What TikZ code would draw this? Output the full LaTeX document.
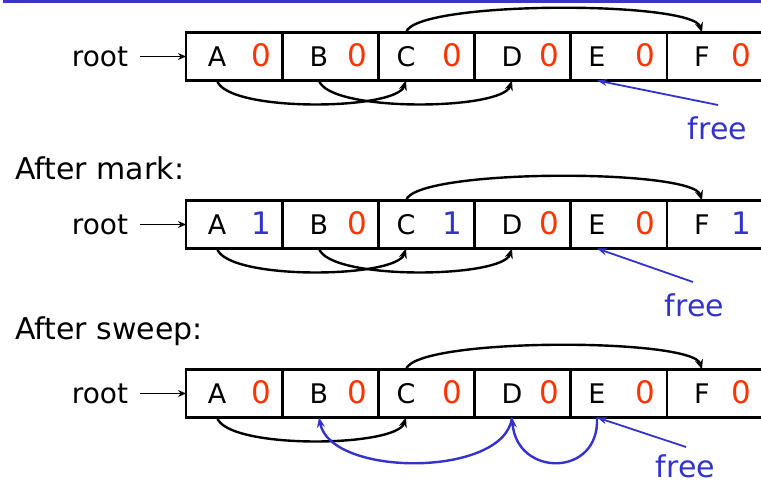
\documentclass[tikz,border=0pt]{standalone}
\usepackage{fontspec}
\setmainfont{DejaVu Sans}
\usetikzlibrary{arrows.meta}
\definecolor{barblue}{HTML}{3A33CC}
\definecolor{zred}{HTML}{FF3300}
\definecolor{oneblue}{HTML}{3333CC}
\tikzset{
  cell/.style={draw, line width=2.8pt, minimum width=96.2pt, minimum height=48pt, inner sep=0pt, outer sep=0pt},
  letter/.style={anchor=base, inner sep=0pt, font=\fontsize{27}{27}\selectfont},
  bitzero/.style={anchor=base, inner sep=0pt, text=zred, font=\fontsize{31}{31}\selectfont},
  bitone/.style={anchor=base, inner sep=0pt, text=oneblue, font=\fontsize{31}{31}\selectfont},
  lbl/.style={anchor=base west, inner sep=0pt, font=\fontsize{30}{30}\selectfont},
  rootlbl/.style={anchor=base, inner sep=0pt, font=\fontsize{28}{28}\selectfont},
  freelbl/.style={anchor=base, inner sep=0pt, text=oneblue, font=\fontsize{30}{30}\selectfont},
  ptr/.style={line width=2.4pt, -{Stealth[length=10pt,width=8pt]}},
  rootptr/.style={line width=1.8pt, -{Stealth[length=8pt,width=7pt]}},
  freeptr/.style={draw=oneblue, line width=1.8pt, -{Stealth[length=10pt,width=7pt]}},
  blueptr/.style={draw=oneblue, line width=2.4pt, -{Stealth[length=10pt,width=8pt]}}
}
\newcommand\memrow[8]{%
  \begin{scope}[yshift=-#2pt]
    \node[rootlbl] (#1root) at (100,67) {root};
    \foreach \L/\cx/\lx/\dx/\d in {A/234.1/217/261/#3, B/330.3/319/357/#4, C/426.5/406/452/#5, D/522.7/512/549/#6, E/618.9/597/645/#7, F/715.1/702/741/#8}{
      \node[cell] (#1\L) at (\cx,56.5) {};
      \node[letter] (#1\L l) at (\lx,67) {\L};
      \ifnum\d=0 \node[bitzero] (#1\L d) at (\dx,67) {0};\else \node[bitone] (#1\L d) at (\dx,67) {1};\fi
    }
  \end{scope}}
\begin{document}
\begin{tikzpicture}[x=1pt,y=-1pt]
\useasboundingbox (0,0) rectangle (761,486);
\fill[barblue] (3,0) rectangle (761,3.5);

\memrow{ra}{0}{0}{0}{0}{0}{0}{0}
\memrow{rb}{168}{1}{0}{1}{0}{0}{1}
\memrow{rc}{337}{0}{0}{0}{0}{0}{0}

\node[lbl] (markl) at (15,180) {After mark:};
\node[lbl] (sweepl) at (15,340) {After sweep:};

% root pointers and live links
\foreach \p in {ra,rb,rc}{
  \draw[rootptr] ([xshift=12pt]\p root.east |- \p A.west) -- (\p A.west);
  \draw[ptr] (\p Al |- \p A.south) .. controls +(10,32) and +(-10,30) .. (\p Cl |- \p C.south);
  \draw[ptr] (\p Cl |- \p C.north) .. controls +(8,-32) and +(-10,-32) .. (\p Fl |- \p F.north);
}
\draw[ptr] (raBl |- raB.south) .. controls +(10,32) and +(-10,30) .. (raDl |- raD.south);
\draw[ptr] (rbBl |- rbB.south) .. controls +(10,32) and +(-10,30) .. (rbDl |- rbD.south);

% free labels and pointers
\node[freelbl] (fa) at (717.5,140) {free};
\node[freelbl] (fb) at (694.5,317) {free};
\node[freelbl] (fc) at (685.5,478) {free};
\coordinate (fas) at (718,105);
\coordinate (fbs) at (693,282);
\coordinate (fcs) at (686,447);
\draw[freeptr] (fas) -- (raEl |- raE.south);
\draw[freeptr] (fbs) -- (rbEl |- rbE.south);
\draw[freeptr] (fcs) -- (rcEl |- rcE.south);

% free list after sweep
\draw[blueptr] (rcEl |- rcE.south) .. controls +(3,60) and +(5,60) .. (rcDl |- rcD.south);
\draw[blueptr] (rcDl |- rcD.south) .. controls +(-7,60) and +(12,60) .. (rcBl |- rcB.south);
\end{tikzpicture}
\end{document}
